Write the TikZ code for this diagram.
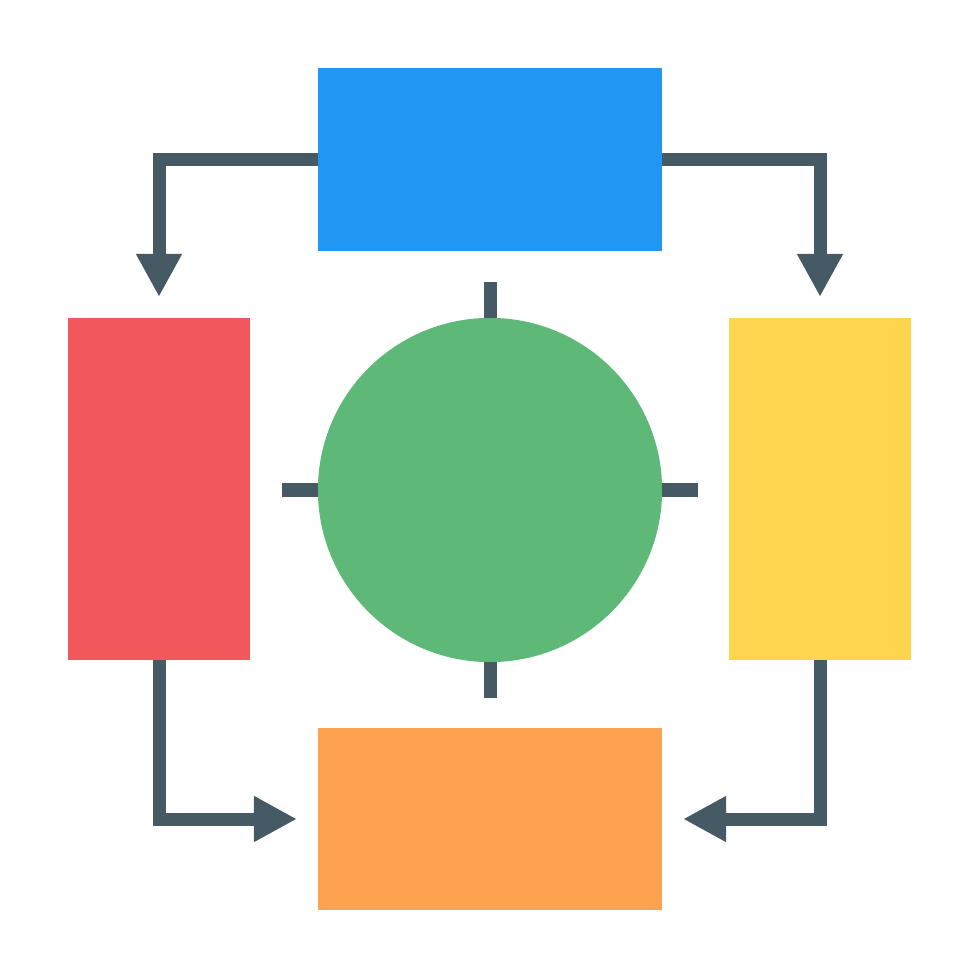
\documentclass[tikz,border=0pt]{standalone}
\usetikzlibrary{arrows.meta}
\definecolor{flowblue}{HTML}{2196F3}
\definecolor{flowred}{HTML}{F2575C}
\definecolor{flowyellow}{HTML}{FFD550}
\definecolor{floworange}{HTML}{FFA24F}
\definecolor{flowgreen}{HTML}{5EB877}
\definecolor{flowline}{HTML}{455A64}
\tikzset{
  box/.style={inner sep=0pt, outer sep=0pt},
  wide/.style={box, minimum width=3.44cm, minimum height=1.82cm},
  tall/.style={box, minimum width=1.82cm, minimum height=3.42cm},
  link/.style={draw=flowline, line width=0.13cm, shorten >=0.21cm,
    -{Triangle[length=0.43cm, width=0.43cm]}},
  tick/.style={draw=flowline, line width=0.13cm}
}
\begin{document}
\begin{tikzpicture}[x=0.01cm, y=-0.01cm]
    \useasboundingbox (0,0) rectangle (980,980);
    \node[wide, fill=flowblue] (top) at (490,159.5) {};
    \node[tall, fill=flowred] (left) at (159,489) {};
    \node[tall, fill=flowyellow] (right) at (820,489) {};
    \node[wide, fill=floworange] (bottom) at (490,819) {};
    \node[box, circle, minimum size=3.44cm, fill=flowgreen] (hub) at (490,490) {};
    \draw[tick] (hub.north) -- ++(0,-36);
    \draw[tick] (hub.south) -- ++(0,36);
    \draw[tick] (hub.west) -- ++(-36,0);
    \draw[tick] (hub.east) -- ++(36,0);
    \draw[link] (top.west) -| (left.north);
    \draw[link] (top.east) -| (right.north);
    \draw[link] (left.south) |- (bottom.west);
    \draw[link] (right.south) |- (bottom.east);
\end{tikzpicture}
\end{document}
